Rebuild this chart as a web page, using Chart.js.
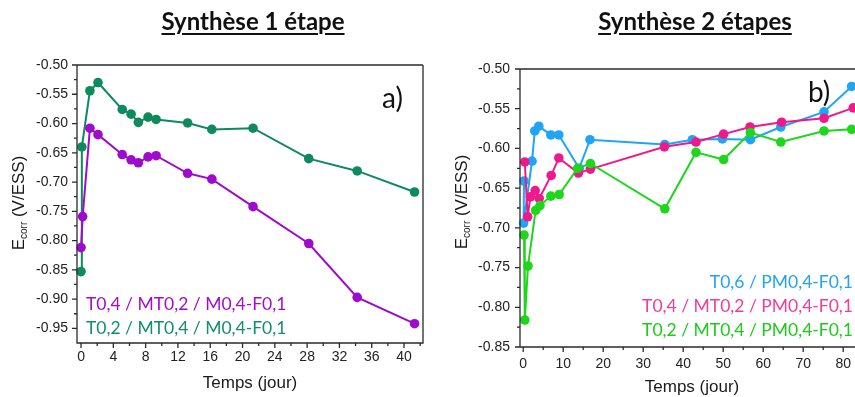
<!DOCTYPE html>
<html>
<head>
<meta charset="utf-8">
<script src="https://cdn.jsdelivr.net/npm/chart.js@4"></script>
<style>
html, body { margin: 0; padding: 0; overflow: hidden; background: #fff; width: 855px; height: 397px; }
canvas { position: absolute; top: 0; }
#g1 { left: 0; }
#g2 { left: 440px; }
.titre { position: absolute; top: 6px; font: bold 24px Lato; color: #111; white-space: nowrap;
         text-decoration: underline; text-decoration-thickness: 2px; text-underline-offset: 3px;
         transform: translateX(-50%); }
.leg { position: absolute; font: 17.5px Lato; white-space: nowrap; line-height: 1; }
.lettre { position: absolute; font: 28px Lato; color: #111; line-height: 1; }
</style>
</head>
<body>
<canvas id="g1" width="430" height="397"></canvas>
<canvas id="g2" width="445" height="397"></canvas>

<div class="titre" style="left:253px">Synthèse 1 étape</div>
<div class="titre" style="left:695px">Synthèse 2 étapes</div>
<div class="lettre" style="left:382px;top:83px">a)</div>
<div class="lettre" style="left:808px;top:77px">b)</div>
<div class="leg" style="left:86px;top:295px;color:#a010c8">T0,4 / MT0,2 / M0,4-F0,1</div>
<div class="leg" style="left:86px;top:319px;color:#139064">T0,2 / MT0,4 / M0,4-F0,1</div>
<div class="leg" style="right:2px;top:273px;color:#22a4f2">T0,6 / PM0,4-F0,1</div>
<div class="leg" style="right:2px;top:297px;color:#f23d96">T0,4 / MT0,2 / PM0,4-F0,1</div>
<div class="leg" style="right:2px;top:321px;color:#1ccc1c">T0,2 / MT0,4 / PM0,4-F0,1</div>

<script>
// a) synthese 1 etape
const jours1Violet = [0, 0.2, 1.1, 2.1, 5.1, 6.2, 7.1, 8.3, 9.3, 13.2, 16.2, 21.3, 28.2, 34.2, 41.3]
const ecorrViolet = [-0.812, -0.759, -0.608, -0.619, -0.653, -0.662, -0.667, -0.657, -0.655, -0.685, -0.695, -0.742, -0.805, -0.897, -0.942]
const jours1Vert = [0, 0.1, 1.1, 2.1, 5.1, 6.2, 7.1, 8.3, 9.3, 13.2, 16.2, 21.3, 28.2, 34.2, 41.3]
const ecorrVert1 = [-0.853, -0.640, -0.544, -0.530, -0.576, -0.584, -0.598, -0.589, -0.593, -0.599, -0.610, -0.608, -0.660, -0.681, -0.717]

// b) synthese 2 etapes
const joursBleu = [0.2, 0.1, 2.2, 2.9, 3.9, 6.9, 8.9, 14.0, 16.7, 35.4, 42.3, 49.8, 56.8, 64.4, 75.2, 82.1]
const ecorrBleu = [-0.641, -0.694, -0.616, -0.578, -0.572, -0.583, -0.583, -0.625, -0.589, -0.595, -0.589, -0.588, -0.589, -0.573, -0.554, -0.522]
const joursRose = [0.4, 1.1, 1.8, 3.0, 4.0, 7.0, 8.9, 13.8, 16.8, 35.3, 43.2, 50.1, 56.7, 64.6, 75.2, 82.5]
const ecorrRose = [-0.617, -0.686, -0.661, -0.653, -0.663, -0.634, -0.612, -0.631, -0.626, -0.598, -0.592, -0.582, -0.573, -0.567, -0.562, -0.549]
const joursVert2 = [0.2, 0.4, 1.2, 3.1, 4.2, 6.9, 9.0, 13.6, 16.8, 35.4, 43.2, 50.1, 56.8, 64.4, 75.2, 82.1]
const ecorrVert2 = [-0.709, -0.816, -0.748, -0.678, -0.672, -0.660, -0.658, -0.625, -0.619, -0.676, -0.605, -0.614, -0.580, -0.592, -0.578, -0.576]

// ticks
const xTicks1 = [0, 4, 8, 12, 16, 20, 24, 28, 32, 36, 40]
const xMinor1 = [2, 6, 10, 14, 18, 22, 26, 30, 34, 38, 42]
const yTicks1 = [-0.50, -0.55, -0.60, -0.65, -0.70, -0.75, -0.80, -0.85, -0.90, -0.95]
const yMinor1 = [-0.525, -0.575, -0.625, -0.675, -0.725, -0.775, -0.825, -0.875, -0.925]
const xTicks2 = [0, 10, 20, 30, 40, 50, 60, 70, 80]
const xMinor2 = [5, 15, 25, 35, 45, 55, 65, 75, 85]
const yTicks2 = [-0.50, -0.55, -0.60, -0.65, -0.70, -0.75, -0.80, -0.85]
const yMinor2 = [-0.525, -0.575, -0.625, -0.675, -0.725, -0.775, -0.825]

function serie(xs, ys, couleur, ordre) {
    return {
        data: xs.map((x, i) => ({x: x, y: ys[i]})),
        showLine: true,
        borderColor: couleur,
        backgroundColor: couleur,
        borderWidth: 2,
        pointRadius: 4.8,
        pointHoverRadius: 4.8,
        pointBorderWidth: 0,
        clip: false,
        order: ordre
    }
}

// frame, ticks and axis titles
function cadre(o) {
    return {
        id: 'cadre',
        afterDraw(chart) {
            const ctx = chart.ctx
            const a = chart.chartArea
            const sx = chart.scales.x, sy = chart.scales.y
            ctx.save()
            ctx.strokeStyle = '#2a2a2a'
            ctx.lineWidth = 1.3
            ctx.beginPath()
            ctx.moveTo(a.right, a.top)
            ctx.lineTo(a.left, a.top)
            ctx.lineTo(a.left, a.bottom)
            ctx.lineTo(a.right, a.bottom)
            if (o.boite) ctx.lineTo(a.right, a.top)
            o.xTicks.forEach(v => { const p = sx.getPixelForValue(v); ctx.moveTo(p, a.bottom); ctx.lineTo(p, a.bottom + 5) })
            o.xMinor.forEach(v => { const p = sx.getPixelForValue(v); ctx.moveTo(p, a.bottom); ctx.lineTo(p, a.bottom + 3) })
            o.yTicks.forEach(v => { const p = sy.getPixelForValue(v); ctx.moveTo(a.left, p); ctx.lineTo(a.left - 5, p) })
            o.yMinor.forEach(v => { const p = sy.getPixelForValue(v); ctx.moveTo(a.left, p); ctx.lineTo(a.left - 3, p) })
            ctx.stroke()

            ctx.fillStyle = '#1a1a1a'
            ctx.textBaseline = 'middle'
            ctx.textAlign = 'center'
            ctx.font = '17px "Liberation Sans"'
            ctx.fillText('Temps (jour)', o.xTitre[0], o.xTitre[1])

            // E_corr (V/ESS), rotated
            ctx.translate(o.yTitre[0], o.yTitre[1])
            ctx.rotate(-Math.PI / 2)
            ctx.textAlign = 'left'
            ctx.textBaseline = 'alphabetic'
            const fGrand = '17px "Liberation Sans"', fPetit = '10px "Liberation Sans"'
            ctx.font = fGrand
            const w1 = ctx.measureText('E').width, w3 = ctx.measureText(' (V/ESS)').width
            ctx.font = fPetit
            const w2 = ctx.measureText('corr').width
            let x0 = -(w1 + w2 + w3) / 2
            ctx.font = fGrand
            ctx.fillText('E', x0, 6)
            ctx.font = fPetit
            ctx.fillText('corr', x0 + w1, 9)
            ctx.font = fGrand
            ctx.fillText(' (V/ESS)', x0 + w1 + w2, 6)
            ctx.restore()
        }
    }
}

function tracer(id, datasets, o) {
    return new Chart(document.getElementById(id), {
        type: 'scatter',
        data: {datasets: datasets},
        options: {
            responsive: false,
            animation: false,
            layout: {padding: {top: o.haut, right: o.droite, left: 0, bottom: 0}},
            plugins: {legend: {display: false}, tooltip: {enabled: false}},
            scales: {
                x: {
                    min: o.xMin, max: o.xMax,
                    grid: {display: false, drawTicks: false},
                    border: {display: false},
                    afterBuildTicks: ax => { ax.ticks = o.xTicks.map(v => ({value: v})) },
                    afterFit: ax => { ax.height = o.xH },
                    ticks: {padding: o.xPad, color: '#222', autoSkip: false, maxRotation: 0,
                            font: {family: 'Liberation Sans', size: 14}}
                },
                y: {
                    min: o.yMin, max: o.yMax,
                    grid: {display: false, drawTicks: false},
                    border: {display: false},
                    afterBuildTicks: ax => { ax.ticks = o.yTicks.map(v => ({value: v})) },
                    afterFit: ax => { ax.width = o.yW },
                    ticks: {padding: o.yPad, color: '#222', autoSkip: false,
                            font: {family: 'Liberation Sans', size: 14},
                            callback: v => v.toFixed(2)}
                }
            }
        },
        plugins: [cadre(o)]
    })
}

tracer('g1', [
    serie(jours1Violet, ecorrViolet, '#9e0bcc', 0),
    serie(jours1Vert, ecorrVert1, '#0f8a5f', 1)
], {
    haut: 65, droite: 7, xH: 54, yW: 77, xPad: 6, yPad: 9,
    xMin: -0.5, xMax: 42.35, yMin: -0.975, yMax: -0.50,
    xTicks: xTicks1, xMinor: xMinor1, yTicks: yTicks1, yMinor: yMinor1,
    boite: true, xTitre: [250, 383], yTitre: [18, 203]
})

tracer('g2', [
    serie(joursVert2, ecorrVert2, '#1ed61a', 0),
    serie(joursRose, ecorrRose, '#ee1a8c', 1),
    serie(joursBleu, ecorrBleu, '#1ea5f4', 2)
], {
    haut: 69, droite: 5, xH: 50, yW: 80, xPad: 9, yPad: 10,
    xMin: -0.8, xMax: 89.2, yMin: -0.85, yMax: -0.50,
    xTicks: xTicks2, xMinor: xMinor2, yTicks: yTicks2, yMinor: yMinor2,
    boite: false, xTitre: [252, 387], yTitre: [21, 202]
})
</script>
</body>
</html>
